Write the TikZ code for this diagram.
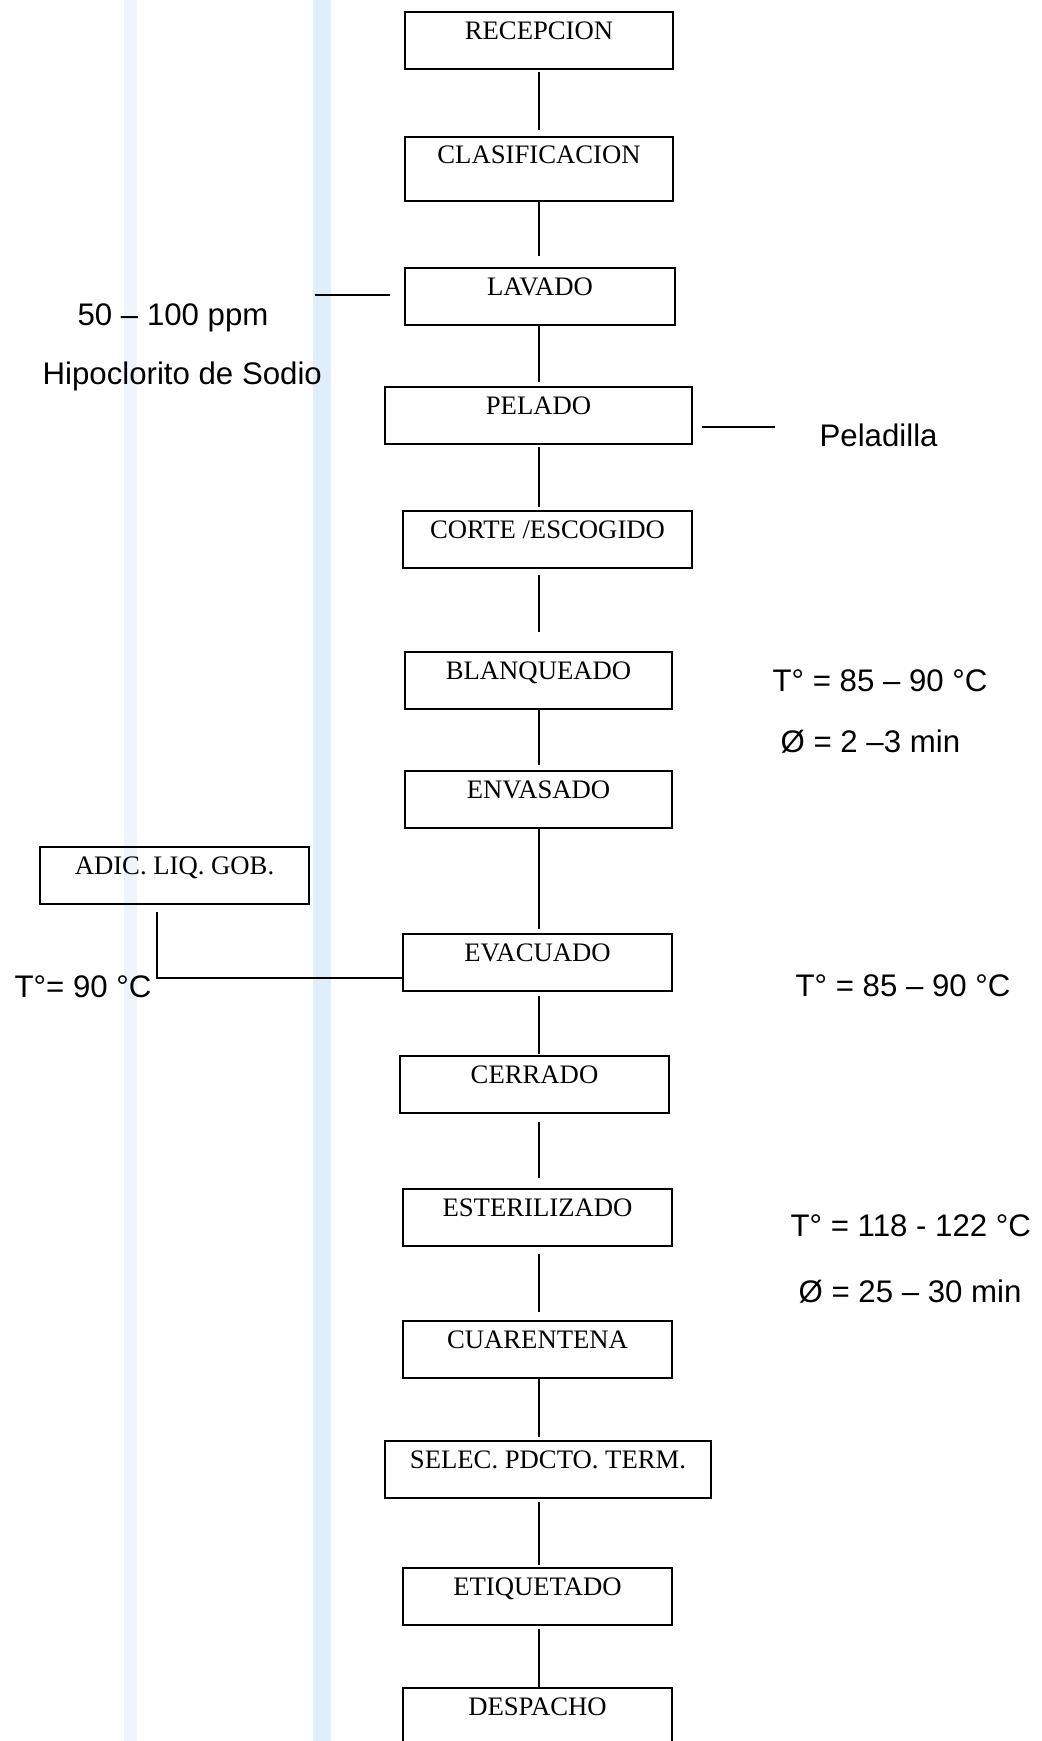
\documentclass[tikz,border=0pt]{standalone}
\usepackage{fontspec}
\setmainfont{Liberation Serif}
\newfontfamily\notefont{Liberation Sans}
\tikzset{stage/.style={draw, line width=1.2pt, anchor=north west, inner sep=0pt, outer sep=0pt,
    minimum width=#1, text height=13.5pt, text depth=15pt, font=\fontsize{13.35pt}{16pt}\selectfont},
  stage/.default=134.5pt,
  note/.style={anchor=base west, inner sep=0pt, font=\notefont\fontsize{15.6pt}{18pt}\selectfont},
  paper/.style={fill={rgb,255:red,224;green,237;blue,251}}}

\begin{document}
\begin{tikzpicture}[x=0.5pt,y=-0.5pt,line width=0.65pt]
  \useasboundingbox (0,0) rectangle (1042,1741);
  \clip (0,0) rectangle (1042,1741);
  \fill[paper, opacity=0.55] (124,0) rectangle (137,1741);
  \fill[paper] (313,0) rectangle (331,1741);
  \coordinate (axis) at (539,0);
  \node[stage=134pt] (recepcion) at (405,12) {RECEPCION};
  \node[stage=134pt, text depth=19pt, text height=13pt] (clasificacion) at (405,137) {CLASIFICACION};
  \node[stage=135pt] (lavado) at (405,268) {LAVADO};
  \node[stage=153.5pt] (pelado) at (385,387) {PELADO};
  \node[stage=144.5pt] (corte) at (403,511) {CORTE /ESCOGIDO};
  \node[stage=133.5pt] (blanqueado) at (405,652) {BLANQUEADO};
  \node[stage=133.5pt] (envasado) at (405,771) {ENVASADO};
  \node[stage] (adicion) at (40,847) {ADIC. LIQ. GOB.};
  \node[stage] (evacuado) at (403,934) {EVACUADO};
  \node[stage] (cerrado) at (400,1056) {CERRADO};
  \node[stage] (esterilizado) at (403,1189) {ESTERILIZADO};
  \node[stage] (cuarentena) at (403,1321) {CUARENTENA};
  \node[stage=163pt] (seleccion) at (385,1441) {SELEC. PDCTO. TERM.};
  \node[stage] (etiquetado) at (403,1568) {ETIQUETADO};
  \node[stage] (despacho) at (403,1688) {DESPACHO};
  \foreach \a/\b/\s/\t in {recepcion/clasificacion/1.5pt/3.5pt, clasificacion/lavado/0pt/6pt,
      lavado/pelado/0pt/2.5pt, pelado/corte/1.5pt/2pt, corte/blanqueado/3.5pt/10pt,
      blanqueado/envasado/0pt/3pt, envasado/evacuado/0pt/2.5pt, evacuado/cerrado/2.5pt/1pt,
      cerrado/esterilizado/4.5pt/5.5pt, esterilizado/cuarentena/4pt/4.5pt,
      cuarentena/seleccion/0pt/2pt, seleccion/etiquetado/2pt/1.5pt, etiquetado/despacho/2pt/0pt}
    \draw[shorten <=\s, shorten >=\t] (\a.south -| axis) -- (\b.north -| axis);
  \coordinate (cloro) at (315,295);
  \draw[shorten >=7.5pt] (cloro) -- (lavado.west |- cloro);
  \coordinate (merma) at (775,427);
  \draw[shorten <=5pt] (pelado.east |- merma) -- (merma);
  \coordinate (codo) at (157,978);
  \draw[shorten <=4pt] (adicion.south -| codo) -- (codo) -- (evacuado.west |- codo);
  \node[note] (ppm) at (77,325) {50 – 100 ppm};
  \node[note] (hipoclorito) at (42,384) {Hipoclorito de Sodio};
  \node[note] (peladilla) at (819,446) {Peladilla};
  \node[note] (tblanqueado) at (772,691) {T° = 85 – 90 °C};
  \node[note] (mblanqueado) at (780,752) {Ø = 2 –3 min};
  \node[note] (tliquido) at (14,997) {T°= 90 °C};
  \node[note] (tevacuado) at (795,996) {T° = 85 – 90 °C};
  \node[note] (testerilizado) at (790,1236) {T° = 118 - 122 °C};
  \node[note] (mesterilizado) at (798,1302) {Ø = 25 – 30 min};
\end{tikzpicture}
\end{document}
